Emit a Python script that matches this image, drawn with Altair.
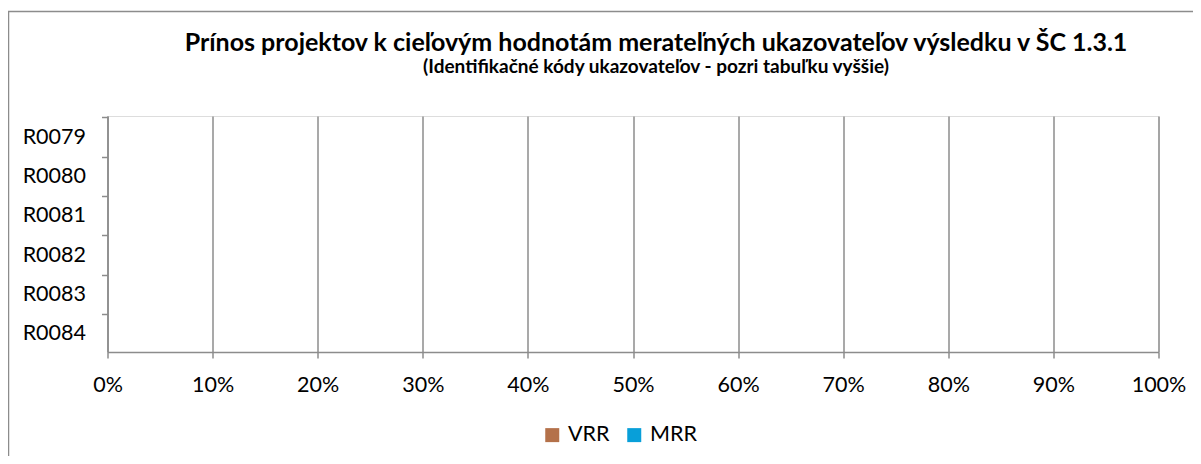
import altair as alt
import pandas as pd

categories = ["R0079", "R0080", "R0081", "R0082", "R0083", "R0084"]
series = ["VRR", "MRR"]
vrr_values = [0, 0, 0, 0, 0, 0]
mrr_values = [0, 0, 0, 0, 0, 0]
series_colors = ["#b4714a", "#089fd9"]
x_ticks = [i / 10 for i in range(11)]

rows = []
for c, v, m in zip(categories, vrr_values, mrr_values):
    rows.append({"kod": c, "seria": "VRR", "hodnota": v})
    rows.append({"kod": c, "seria": "MRR", "hodnota": m})
df = pd.DataFrame(rows)

FONT = "Lato"
GRID = "#8c8c8c"

bars = alt.Chart(df).mark_bar().encode(
    y=alt.Y("kod:N", sort=categories, title=None,
            axis=alt.Axis(bandPosition=0, tickSize=6, labelPadding=16, labelOffset=2,
                          labelFont=FONT, labelFontSize=21.5, labelColor="#000000",
                          domainColor=GRID, tickColor=GRID, domainWidth=1.5,
                          tickWidth=1.5, grid=False)),
    x=alt.X("hodnota:Q", stack="normalize", title=None,
            scale=alt.Scale(domain=[0, 1], nice=False),
            axis=alt.Axis(values=x_ticks, format=".0%", tickSize=6, labelPadding=16,
                          labelFlush=False, labelOverlap=False,
                          labelFont=FONT, labelFontSize=21.5, labelColor="#000000",
                          domainColor=GRID, tickColor=GRID, domainWidth=1.5,
                          tickWidth=1.5, grid=True, gridColor=GRID, gridWidth=1.5,
                          gridOpacity=1)),
    color=alt.Color("seria:N", sort=series, title=None,
                    scale=alt.Scale(domain=series, range=series_colors),
                    legend=alt.Legend(orient="none", legendX=434, legendY=308,
                                      direction="horizontal", symbolType="square",
                                      symbolSize=196, symbolStrokeWidth=0,
                                      labelFont=FONT, labelFontSize=21.5,
                                      labelColor="#000000", columnPadding=14,
                                      labelOffset=5, padding=0)),
)

frame = alt.Chart(pd.DataFrame({"a": [0]})).mark_rect(
    fill=None, stroke=GRID, strokeWidth=1.5, clip=False
).encode(x=alt.value(-99), x2=alt.value(1110), y=alt.value(-104.5), y2=alt.value(360))

chart = alt.layer(frame, bars).properties(
    width=1051, height=236,
    title=alt.TitleParams(
        text="Prínos projektov k cieľovým hodnotám merateľných ukazovateľov výsledku v ŠC 1.3.1",
        subtitle="(Identifikačné kódy ukazovateľov - pozri tabuľku vyššie)",
        anchor="middle", dx=23, offset=-66,
        font=FONT, fontSize=25, fontWeight="bold", color="#000000",
        subtitleFont=FONT, subtitleFontSize=19, subtitleFontWeight="bold",
        subtitleColor="#000000", subtitlePadding=2,
    ),
    autosize=alt.AutoSizeParams(type="none"),
    padding={"left": 99.5, "top": 108, "right": 34.5, "bottom": 104},
).configure_view(stroke=None).configure(background="#ffffff")

chart.save("out.html", embed_options={"renderer": "svg", "actions": False})
